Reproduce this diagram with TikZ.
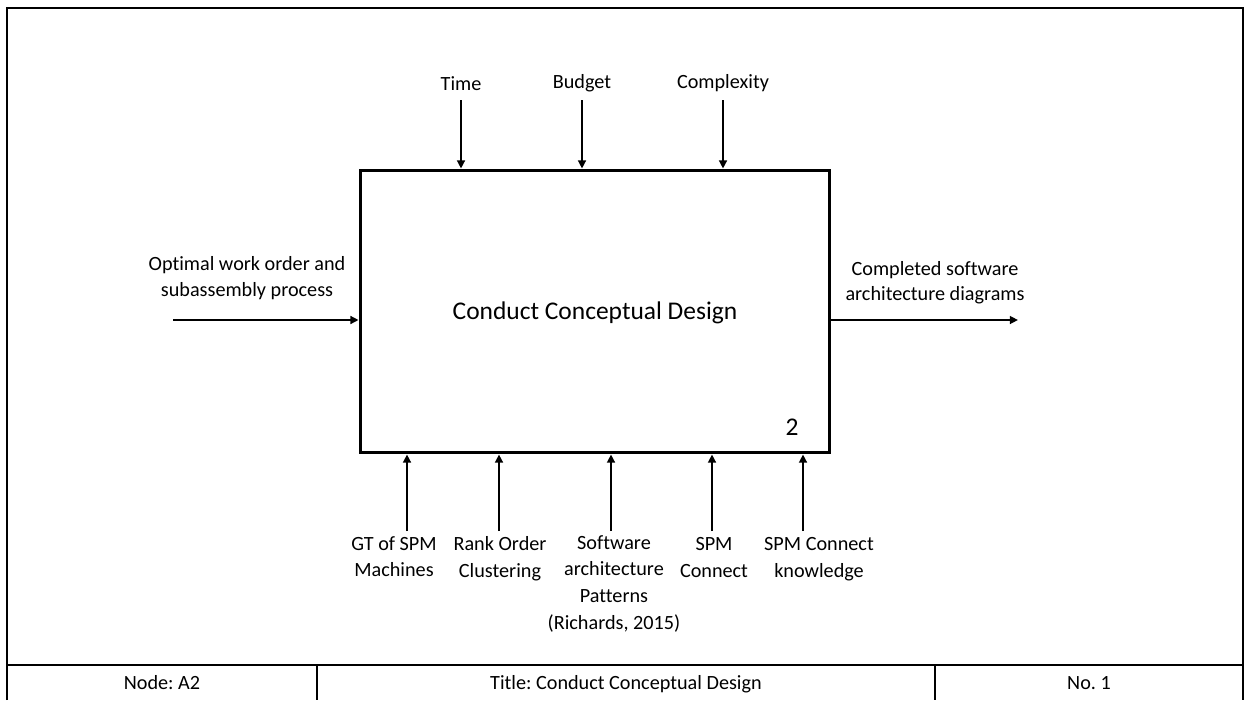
\documentclass[tikz,border=0pt]{standalone}
\usepackage{fontspec}
\setmainfont{Carlito}[Ligatures=NoCommon]
\usetikzlibrary{arrows.meta}
\frenchspacing
\begin{document}
\begin{tikzpicture}[x=0.02cm,y=-0.02cm,
  lbl/.style={inner sep=0pt, align=center, font=\fontsize{11.5}{14.4}\selectfont},
  mech/.style={lbl, anchor=north, font=\fontsize{11.5}{15.2}\selectfont},
  flow/.style={line width=1.15pt, -{Triangle[length=4.6pt,width=4.4pt]}},
  frame/.style={line width=1.1pt},
  activity/.style={draw, line width=1.7pt, minimum width=9.4cm, minimum height=5.66cm, inner sep=0pt}]
\useasboundingbox (0,0) rectangle (1246,700);

% sheet frame and footer
\draw[frame] (7,700) -- (7,8) -- (1243,8) -- (1243,700);
\draw[frame] (7,665) -- (1243,665);
\draw[frame] (317,665) -- (317,700);
\draw[frame] (935,665) -- (935,700);
\node[lbl, anchor=base] (fnode) at (162,689) {Node: A2};
\node[lbl, anchor=base] (ftitle) at (626,689) {Title: Conduct Conceptual Design};
\node[lbl, anchor=base] (fno) at (1089,689) {No. 1};

% activity box
\node[activity] (box) at (595,311.5) {};
\node[font=\fontsize{14.5}{17}\selectfont] (title) at (595,313) {Conduct Conceptual Design};
\node[font=\fontsize{14.5}{17}\selectfont] (num) at (792,427) {2};

% controls (top)
\node[lbl, anchor=base] (ltime) at (461,90) {Time};
\node[lbl, anchor=base] (lbudget) at (582,88) {Budget};
\node[lbl, anchor=base] (lcomplex) at (723,88) {Complexity};
\coordinate (cTime) at (461,100);
\coordinate (cBudget) at (582,100);
\coordinate (cComplex) at (723,100);
\draw[flow] (cTime) -- (cTime |- box.north);
\draw[flow] (cBudget) -- (cBudget |- box.north);
\draw[flow] (cComplex) -- (cComplex |- box.north);

% input and output
\node[lbl] (lin) at (247,278) {Optimal work order and\\subassembly process};
\coordinate (cIn) at (173,320);
\draw[flow] (cIn) -- (cIn -| box.west);
\node[lbl] (lout) at (935,283) {Completed software\\architecture diagrams};
\coordinate (cOut) at (1018,320);
\draw[flow] (cOut -| box.east) -- (cOut);

% mechanisms (bottom)
\node[mech] (m1) at (394,536) {GT of SPM\\Machines};
\node[mech] (m2) at (500,536) {Rank Order\\Clustering};
\node[mech] (m3) at (614,535) {Software\\architecture\\Patterns\\(Richards, 2015)};
\node[mech] (m4) at (714,537) {SPM\\Connect};
\node[mech] (m5) at (819,537) {SPM Connect\\knowledge};
\coordinate (cM1) at (407,531);
\coordinate (cM2) at (499,531);
\coordinate (cM3) at (611,531);
\coordinate (cM4) at (712,531);
\coordinate (cM5) at (803,531);
\foreach \c in {cM1,cM2,cM3,cM4,cM5}
  \draw[flow] (\c) -- (\c |- box.south);
\end{tikzpicture}
\end{document}
